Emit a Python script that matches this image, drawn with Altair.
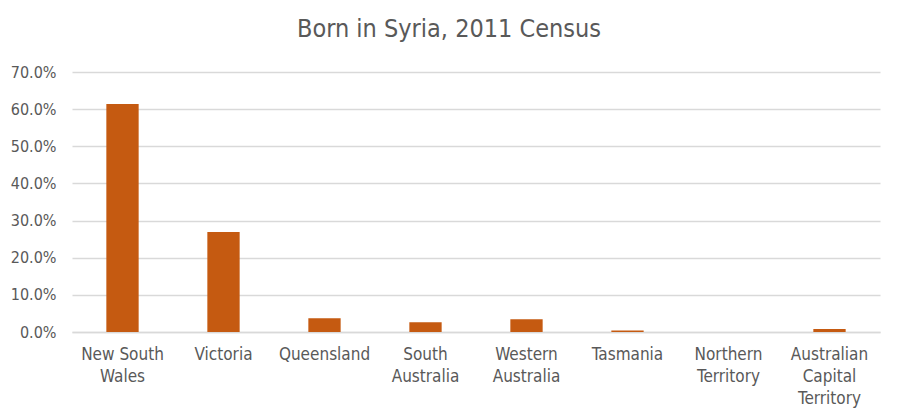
import altair as alt
import pandas as pd

states = ["New South|Wales", "Victoria", "Queensland", "South|Australia",
          "Western|Australia", "Tasmania", "Northern|Territory", "Australian|Capital|Territory"]
shares = [0.614, 0.269, 0.037, 0.026, 0.034, 0.004, 0.0002, 0.008]

df = pd.DataFrame({"state": states, "share": shares})

FONT = "Liberation Sans Narrow, DejaVu Sans Condensed, Open Sans, sans-serif"

chart = alt.Chart(df).mark_bar(color="#C55A11").encode(
    x=alt.X("state:N", sort=states,
            scale=alt.Scale(paddingInner=0.68, paddingOuter=0.34),
            axis=alt.Axis(title=None, labelAngle=0, labelExpr="split(datum.label, '|')",
                          labelFont=FONT, labelFontSize=17, labelColor="#595959",
                          labelLineHeight=22, labelPadding=14, ticks=False,
                          domain=True, domainColor="#d9d9d9", domainWidth=1.5)),
    y=alt.Y("share:Q", scale=alt.Scale(domain=[0, 0.7], nice=False),
            axis=alt.Axis(title=None, format=".1%", values=[0, .1, .2, .3, .4, .5, .6, .7],
                          labelFont=FONT, labelFontSize=16, labelColor="#595959",
                          labelPadding=16, ticks=False, domain=False,
                          gridColor="#d9d9d9", gridWidth=1.5)),
).properties(
    width=808, height=260,
    title=alt.TitleParams("Born in Syria, 2011 Census", font=FONT, fontSize=25,
                          fontWeight="normal", color="#595959", anchor="middle",
                          dx=-27, offset=22),
    autosize=alt.AutoSizeParams(type="none"),
    padding={"left": 72, "top": 72, "right": 19, "bottom": 88},
).configure_view(stroke=None)

chart.save("out.html", embed_options={"renderer": "svg", "actions": False})
